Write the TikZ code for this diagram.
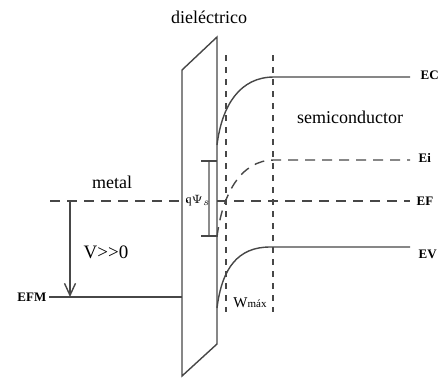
\documentclass[tikz,border=0pt]{standalone}
\usepackage{fontspec}
\setmainfont{Liberation Serif}
\usepackage{amsmath}
\usetikzlibrary{arrows.meta}

\begin{document}
\begin{tikzpicture}[x=0.5pt,y=-0.5pt,line width=0.7pt,color=black!72,
    txt/.style={text=black,font=\fontsize{9}{10}\selectfont,inner sep=1pt},
    lvl/.style={text=black,font=\fontsize{6.5}{7}\selectfont\bfseries,inner sep=1pt,anchor=west},
    dsh/.style={dash pattern=on 5pt off 3.5pt},
    vdsh/.style={dash pattern=on 3pt off 3pt}]
  \useasboundingbox (0,0) rectangle (440,377);

  \coordinate (dtl) at (182,70);
  \coordinate (dtr) at (217,37);
  \coordinate (dbr) at (217,344);
  \coordinate (dbl) at (182,376);
  \draw (dtl) -- (dtr) -- (dbr) -- (dbl) -- cycle;

  \foreach \x/\nm in {226/wl,273/wr}{
    \coordinate (\nm top) at (\x,55);
    \coordinate (\nm bot) at (\x,312);
    \draw[vdsh] (\nm top) -- (\nm bot);
  }

  \node[lvl] (ec) at (418,75) {EC};
  \node[lvl] (ei) at (416,158) {Ei};
  \node[lvl] (ef) at (414,201) {EF};
  \node[lvl] (ev) at (416,254) {EV};
  \node[lvl,anchor=east] (efm) at (49,297) {EFM};

  \coordinate (ecR) at (410,77);
  \coordinate (eiR) at (410,160);
  \coordinate (efR) at (410,201);
  \coordinate (evR) at (410,247);

  \draw (217,145) .. controls (222,105) and (240,77) .. (274,77) -- (ecR);
  \draw[dsh] (217,237) .. controls (222,196) and (240,160) .. (274,160) -- (eiR);
  \draw (217,308) .. controls (222,268) and (238,247) .. (270,247) -- (evR);

  \coordinate (efL) at (50,201);
  \draw[dsh] (efL) -- ([xshift=3]dtl |- efL);
  \draw[dsh] (dtr |- efL) -- (efR);
  \draw (efm) -- (dbl |- efm);

  \coordinate (vtop) at (70,201);
  \draw[-{Straight Barb[length=6pt,width=5.5pt]}] (vtop) -- (vtop |- efm);

  \coordinate (qtop) at (209,161);
  \coordinate (qbot) at (209,236);
  \draw[black!45] (qtop) -- (qbot);
  \draw ([xshift=-4]qtop) -- ([xshift=4]qtop);
  \draw ([xshift=-4]qbot) -- ([xshift=4]qbot);
  \node[text=black,inner sep=0pt,anchor=west,font=\fontsize{6}{7}\selectfont] (qpsi) at (185,201) {q$\Psi_s$};

  \node[txt] (diel) at (209,17) {dieléctrico};
  \node[txt] (metal) at (112,182) {metal};
  \node[txt] (semi) at (350,117) {semiconductor};
  \node[txt,font=\fontsize{9.5}{10}\selectfont] (bias) at (106,252) {V>{}>{}0};
  \node[txt,inner sep=0pt] (wmax) at (250,303)
    {\fontsize{7.5}{8}\selectfont W\fontsize{5.5}{6}\selectfont máx};
\end{tikzpicture}
\end{document}
